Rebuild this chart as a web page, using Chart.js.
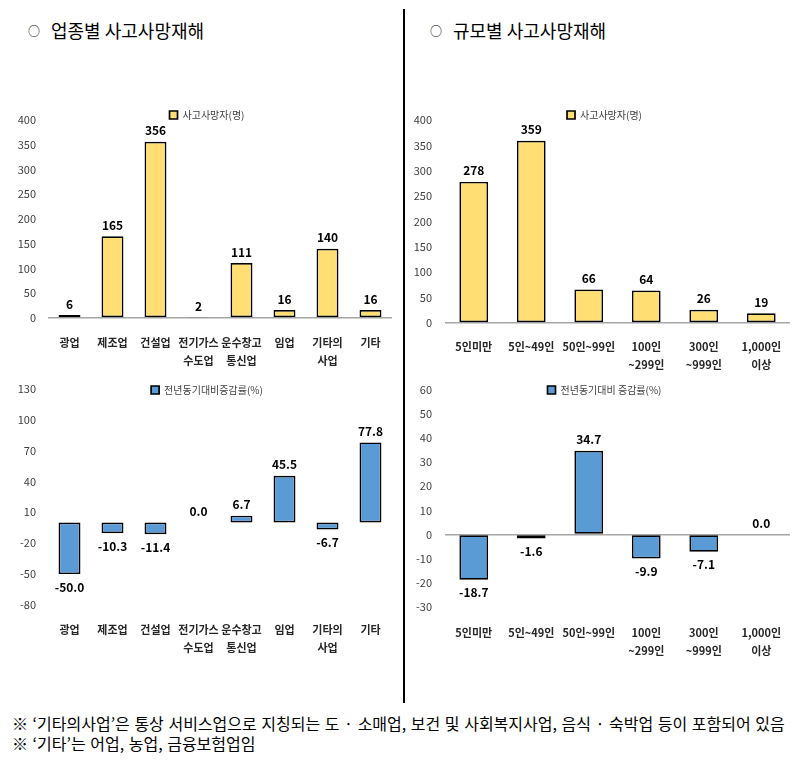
<!DOCTYPE html>
<html><head><meta charset="utf-8">
<script src="https://cdn.jsdelivr.net/npm/chart.js@4.4.1/dist/chart.umd.min.js"></script>
<style>
html,body{margin:0;padding:0;background:#fff;}
body{width:800px;height:776px;position:relative;overflow:hidden;font-family:"Noto Sans CJK KR","Noto Sans",sans-serif;}
.title{position:absolute;top:17px;font-size:18px;line-height:26px;color:#000;white-space:nowrap;font-weight:400;}
.title .mark{font-size:12px;display:inline-block;width:23px;vertical-align:2px;}
.divider{position:absolute;left:403px;top:9px;width:2px;height:694px;background:#000;}
.note{position:absolute;left:12px;font-size:16px;line-height:20px;color:#000;white-space:nowrap;word-spacing:1px;}
canvas{position:absolute;}
</style></head><body>
<div class="title" style="left:28px;"><span class="mark">○</span>업종별 사고사망재해</div>
<div class="title" style="left:430px;"><span class="mark">○</span>규모별 사고사망재해</div>
<div class="divider"></div>
<canvas id="c1" width="400" height="268" style="left:0;top:100px;"></canvas>
<canvas id="c2" width="400" height="285" style="left:0;top:370px;"></canvas>
<canvas id="c3" width="395" height="273" style="left:405px;top:100px;"></canvas>
<canvas id="c4" width="395" height="287" style="left:405px;top:370px;"></canvas>
<div class="note" style="top:713px;">※ ‘기타의사업’은 통상 서비스업으로 지칭되는 도 · 소매업, 보건 및 사회복지사업, 음식 · 숙박업 등이 포함되어 있음</div>
<div class="note" style="top:733px;">※ ‘기타’는 어업, 농업, 금융보험업임</div>
<script>
// ---- data ----
const industryLabels = [['광업'],['제조업'],['건설업'],['전기가스','수도업'],['운수창고','통신업'],['임업'],['기타의','사업'],['기타']];
const industryDeaths = [6,165,356,2,111,16,140,16];
const industryChange = [-50.0,-10.3,-11.4,0.0,6.7,45.5,-6.7,77.8];
const sizeLabels = [['5인미만'],['5인~49인'],['50인~99인'],['100인','~299인'],['300인','~999인'],['1,000인','이상']];
const sizeDeaths = [278,359,66,64,26,19];
const sizeChange = [-18.7,-1.6,34.7,-9.9,-7.1,0.0];
const deathTicks = [0,50,100,150,200,250,300,350,400];
const industryChangeTicks = [-80,-50,-20,10,40,70,100,130];
const sizeChangeTicks = [-30,-20,-10,0,10,20,30,40,50,60];
const deathLegend = '사고사망자(명)';
const industryChangeLegend = '전년동기대비증감률(%)';
const sizeChangeLegend = '전년동기대비 증감률(%)';

const FAMILY = '"Noto Sans CJK KR", "Noto Sans", sans-serif';
const YELLOW = '#FFDF73';
const BLUE = '#5B9BD5';

const legendFit = {
  id:'legendFit',
  beforeLayout(chart){
    const lg = chart.legend;
    if (lg && !lg._fitPatched){
      const orig = lg.fit;
      lg.fit = function(){ orig.call(this); this.height = 0; };
      lg._fitPatched = true;
    }
  },
  afterLayout(chart, args, opts){
    const lg = chart.legend;
    if (lg){
      lg.left += opts.dx; lg.right += opts.dx;
      lg.top = opts.cy - 5; lg.height = 14; lg.bottom = lg.top + 14;
    }
  }
};

const valueLabels = {
  id:'valueLabels',
  afterDatasetsDraw(chart, args, opts){
    const ctx = chart.ctx;
    const meta = chart.getDatasetMeta(0);
    const data = chart.data.datasets[0].data;
    ctx.save();
    ctx.font = 'bold 12px ' + FAMILY;
    ctx.fillStyle = '#000';
    ctx.textAlign = 'center';
    ctx.textBaseline = 'middle';
    meta.data.forEach((bar, i) => {
      const v = data[i];
      const txt = opts.decimals ? v.toFixed(opts.decimals) : String(v);
      const y = v >= 0 ? bar.y - opts.above : bar.y + opts.below;
      ctx.fillText(txt, bar.x, y);
    });
    ctx.restore();
  }
};

function makeChart(id, labels, values, color, legendText, ticks, geo, decimals){
  const step = ticks[1] - ticks[0];
  return new Chart(document.getElementById(id), {
    type:'bar',
    data:{labels:labels, datasets:[{label:legendText, data:values, backgroundColor:color, borderColor:'#000', borderWidth:1.7, borderSkipped:false, barPercentage:geo.bar, categoryPercentage:1}]},
    options:{
      responsive:false, animation:false, devicePixelRatio:1,
      layout:{padding:{top:geo.padTop, right:geo.padRight, left:0, bottom:0}},
      plugins:{
        legend:{display:true, position:'top', labels:{boxWidth:8, boxHeight:8, padding:0, color:'#404040', font:{family:FAMILY, size:10}}},
        tooltip:{enabled:false},
        legendFit:{cy:geo.legendCy, dx:geo.legendDx},
        valueLabels:{decimals:decimals, above:11, below:13}
      },
      scales:{
        x:{grid:{display:false}, border:{display:false},
           ticks:{color:'#262626', font:{family:FAMILY, size:11, weight:'bold', lineHeight:1.64}, padding:geo.xPad, maxRotation:0, autoSkip:false},
           afterFit(s){ s.height = geo.xH; }},
        y:{min:ticks[0], max:ticks[ticks.length-1],
           grid:{drawTicks:false, lineWidth:1.5, color:c => (c.tick && c.tick.value === 0) ? '#A6A6A6' : 'rgba(0,0,0,0)'},
           border:{display:false},
           ticks:{stepSize:step, color:'#404040', font:{family:FAMILY, size:11}, padding:geo.yPad},
           afterFit(s){ s.width = geo.yW; }}
      }
    },
    plugins:[legendFit, valueLabels]
  });
}

makeChart('c1', industryLabels, industryDeaths, YELLOW, deathLegend, deathTicks,
  {bar:0.51, padTop:20, padRight:8, legendCy:15, legendDx:11, xH:50, xPad:8, yW:48, yPad:12}, 0);
makeChart('c2', industryLabels, industryChange, BLUE, industryChangeLegend, industryChangeTicks,
  {bar:0.51, padTop:17, padRight:8, legendCy:20, legendDx:11, xH:50, xPad:8, yW:48, yPad:12}, 1);
makeChart('c3', sizeLabels, sizeDeaths, YELLOW, deathLegend, deathTicks,
  {bar:0.5, padTop:20, padRight:10, legendCy:15, legendDx:7, xH:50, xPad:7, yW:40, yPad:13}, 0);
makeChart('c4', sizeLabels, sizeChange, BLUE, sizeChangeLegend, sizeChangeTicks,
  {bar:0.5, padTop:18, padRight:10, legendCy:20, legendDx:7, xH:50, xPad:9, yW:40, yPad:13}, 1);
</script>
</body></html>
